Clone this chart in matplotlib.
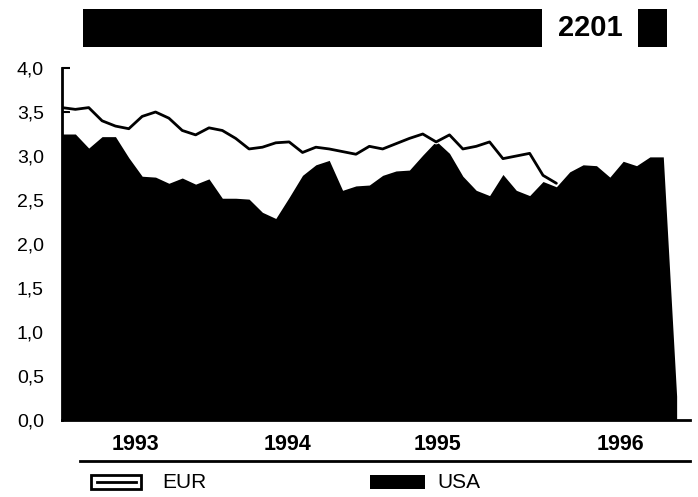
import matplotlib
matplotlib.use("Agg")
import matplotlib.pyplot as plt
from matplotlib.patches import Rectangle
from matplotlib.lines import Line2D
import matplotlib.patheffects as pe

plt.rcParams['font.family'] = ['Liberation Sans', 'DejaVu Sans']

# ---- data (monthly index) ----
usa = [3.25, 3.25, 3.09, 3.22, 3.22, 2.98, 2.77, 2.76, 2.69, 2.75, 2.68, 2.74,
       2.52, 2.52, 2.51, 2.36, 2.29, 2.53, 2.78, 2.90, 2.95, 2.61, 2.66, 2.67,
       2.78, 2.83, 2.84, 3.01, 3.17, 3.03, 2.77, 2.61, 2.55, 2.79, 2.61, 2.55,
       2.71, 2.65, 2.82, 2.90, 2.89, 2.76, 2.94, 2.89, 2.99, 2.99, 0.27]
eur = [3.55, 3.53, 3.55, 3.40, 3.34, 3.31, 3.45, 3.50, 3.43, 3.29, 3.24, 3.32,
       3.29, 3.20, 3.08, 3.10, 3.15, 3.16, 3.04, 3.10, 3.08, 3.05, 3.02, 3.11,
       3.08, 3.14, 3.20, 3.25, 3.16, 3.24, 3.08, 3.11, 3.16, 2.97, 3.00, 3.03,
       2.78, 2.69]
year_labels = ["1993", "1994", "1995", "1996"]
year_pos = [5.5, 16.9, 28.1, 41.8]
y_ticks = [0.0, 0.5, 1.0, 1.5, 2.0, 2.5, 3.0, 3.5, 4.0]
y_labels = ["0,0", "0,5", "1,0", "1,5", "2,0", "2,5", "3,0", "3,5", "4,0"]
legend_names = ["EUR", "USA"]
title_code = "2201"

W, H = 698, 497
fig = plt.figure(figsize=(W / 100, H / 100), dpi=100)

def fx(px):
    return px / W

def fy(py):
    return 1 - py / H

ax = fig.add_axes([fx(62), fy(420), fx(690) - fx(62), fy(68) - fy(420)])

x_usa = list(range(len(usa)))
x_eur = list(range(len(eur)))
ax.fill_between(x_usa, usa, 0, color='black', lw=0)
ax.plot(x_eur, eur, color='black', lw=2.0, solid_joinstyle='round',
        solid_capstyle='round',
        path_effects=[pe.Stroke(linewidth=3.6, foreground='white'), pe.Normal()])

ax.set_xlim(0, 47)
ax.set_ylim(0, 4.0)
ax.set_yticks(y_ticks)
ax.set_yticklabels(y_labels, fontsize=14)
ax.tick_params(axis='y', direction='in', length=6, width=1.5, pad=13)
ax.set_xticks(year_pos)
ax.set_xticklabels(year_labels, fontsize=15.5, fontweight='bold')
ax.tick_params(axis='x', length=0, pad=10)
for s in ['top', 'right']:
    ax.spines[s].set_visible(False)
ax.spines['left'].set_linewidth(2)
ax.spines['bottom'].set_linewidth(2)

# ---- title bar ----
fig.add_artist(Rectangle((fx(83), fy(47)), fx(542) - fx(83), fy(9) - fy(47),
                         transform=fig.transFigure, color='black', lw=0))
fig.add_artist(Rectangle((fx(638), fy(47)), fx(667) - fx(638), fy(9) - fy(47),
                         transform=fig.transFigure, color='black', lw=0))
fig.text(fx(590), fy(28), title_code, fontsize=21, fontweight='bold',
         ha='center', va='center')

# ---- separator & legend ----
fig.add_artist(Line2D([fx(80), fx(690)], [fy(461), fy(461)],
                      transform=fig.transFigure, color='black', lw=2))
fig.add_artist(Rectangle((fx(91), fy(489)), fx(141) - fx(91), fy(475) - fy(489),
                         transform=fig.transFigure, facecolor='white',
                         edgecolor='black', lw=2))
fig.add_artist(Line2D([fx(97), fx(136)], [fy(482), fy(482)],
                      transform=fig.transFigure, color='black', lw=2))
fig.text(fx(162), fy(482), legend_names[0], fontsize=15, ha='left', va='center')
fig.add_artist(Rectangle((fx(370), fy(489)), fx(425) - fx(370), fy(475) - fy(489),
                         transform=fig.transFigure, color='black', lw=0))
fig.text(fx(437), fy(482), legend_names[1], fontsize=15, ha='left', va='center')

fig.savefig("out.png", dpi=100)
